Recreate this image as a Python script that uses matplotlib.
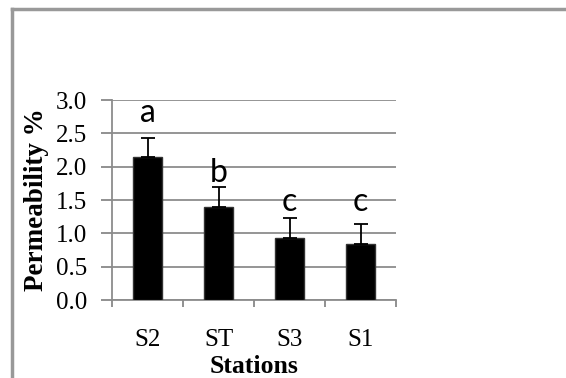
import matplotlib.pyplot as plt
import numpy as np

stations = ["S2", "ST", "S3", "S1"]
permeability = [2.14, 1.40, 0.935, 0.845]
errors = [0.29, 0.29, 0.295, 0.295]
letters = ["a", "b", "c", "c"]
letter_y = [2.67, 1.77, 1.33, 1.33]

fig = plt.figure(figsize=(5.66, 3.78), dpi=100)
ax = fig.add_axes([0.198, 0.2063, 0.502, 0.5291])

x = np.arange(len(stations))
ax.bar(x, permeability, width=0.4, color="black", edgecolor="#333333", linewidth=1, zorder=3)
ax.errorbar(x, permeability, yerr=[np.zeros(len(errors)), errors], fmt="none",
            ecolor="black", elinewidth=1.3, capsize=5, capthick=1.3, zorder=4)

for xi, txt, ly in zip(x, letters, letter_y):
    ax.text(xi, ly, txt, ha="center", va="baseline", fontsize=23, family="Lato")

ax.set_ylim(0, 3.0)
ax.set_yticks(np.arange(0, 3.01, 0.5))
ax.set_yticklabels([f"{v:.1f}" for v in np.arange(0, 3.01, 0.5)], family="Liberation Serif", fontsize=18)
ax.set_xlim(-0.5, len(stations) - 0.5)
ax.set_xticks(np.arange(-0.5, len(stations), 1.0))
ax.set_xticklabels([])
ax.set_xticks(x, minor=True)
ax.set_xticklabels(stations, minor=True, family="Liberation Serif", fontsize=18)
ax.tick_params(axis="x", which="minor", length=0, pad=21)
ax.tick_params(axis="x", which="major", length=5, color="#888888", width=1.3)
ax.tick_params(axis="y", length=8, color="#888888", width=1.3, pad=10)

ax.grid(axis="y", color="#8c8c8c", linewidth=1.3, zorder=0)
ax.set_axisbelow(True)
for s in ["top", "right"]:
    ax.spines[s].set_visible(False)
for s in ["left", "bottom"]:
    ax.spines[s].set_color("#8c8c8c")
    ax.spines[s].set_linewidth(1.3)

ax.set_xlabel("Stations", family="Liberation Serif", fontsize=18.5, fontweight="bold", labelpad=3)
ax.set_ylabel("Permeability %", family="Liberation Serif", fontsize=19.5, fontweight="bold", labelpad=5)

# outer frame (top and left edges only visible)
fig.add_artist(plt.Line2D([12 / 566, 12 / 566], [0, 1 - 9 / 378], color="#999999", linewidth=2.5))
fig.add_artist(plt.Line2D([12 / 566, 1], [1 - 9 / 378, 1 - 9 / 378], color="#999999", linewidth=2.5))

fig.savefig("out.png", dpi=100)
